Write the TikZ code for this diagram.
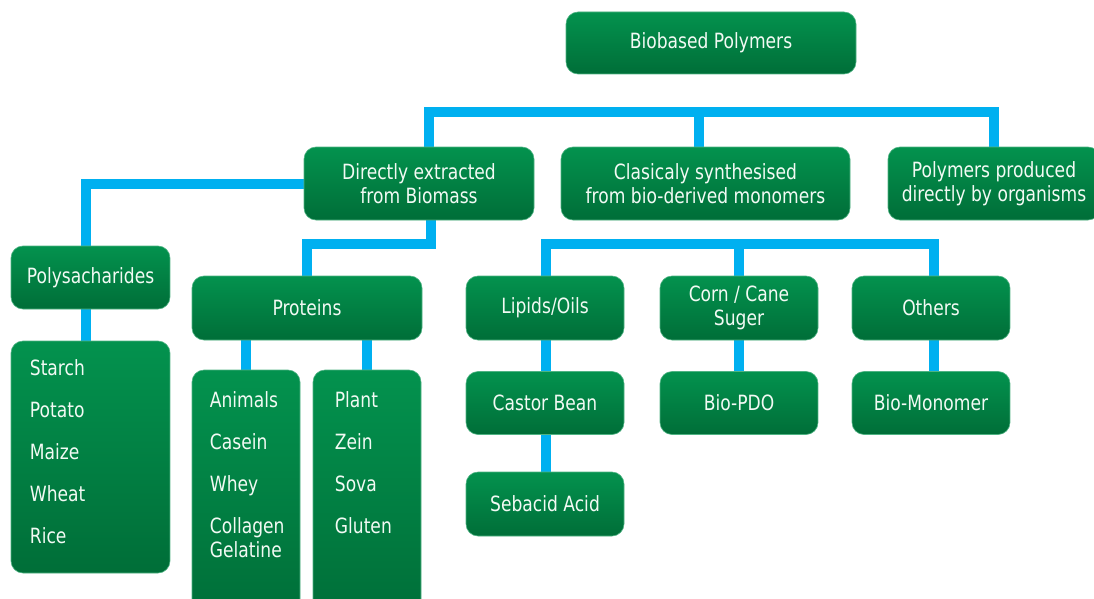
\documentclass[tikz,border=0pt]{standalone}
\usepackage{fontspec}
\setmainfont{DejaVu Sans}[FakeStretch=0.815]
\usetikzlibrary{backgrounds}

\definecolor{boxtop}{RGB}{3,146,78}
\definecolor{boxbottom}{RGB}{0,110,56}
\definecolor{linkblue}{RGB}{0,176,240}
\definecolor{boxtext}{RGB}{242,250,244}

\begin{document}
\begin{tikzpicture}[
        x=1pt, y=-1pt,
        box/.style={rectangle, rounded corners=12pt, inner sep=0pt, align=center,
            top color=boxtop, bottom color=boxbottom, draw=boxtop!70!white, line width=0.6pt,
            text=boxtext, font=\fontsize{21}{24}\selectfont},
        listtext/.style={anchor=north west, inner sep=0pt, align=left, text=boxtext,
            font=\fontsize{21}{24}\selectfont},
        link/.style={draw=linkblue, line width=10pt, line join=miter}
    ]
        \useasboundingbox (0,0) rectangle (1094,599);

        \node[box, minimum width=290, minimum height=62] (bio) at (711,43) {Biobased Polymers};

        \node[box, minimum width=230, minimum height=73] (direct) at (419,183.5) {Directly extracted\\from Biomass};
        \node[box, minimum width=289, minimum height=73] (classic) at (705.5,183.5) {Clasicaly synthesised\\from bio-derived monomers};
        \node[box, minimum width=212, minimum height=73] (organisms) at (994,183.5) {Polymers produced\\directly by organisms};

        \node[box, minimum width=159, minimum height=63] (poly) at (90.5,277.5) {Polysacharides};
        \node[box, minimum width=159, minimum height=232] (starch) at (90.5,457) {};
        \node[listtext] (starchlist) at ([shift={(19,19)}]starch.north west) {Starch\\[18pt]Potato\\[18pt]Maize\\[18pt]Wheat\\[18pt]Rice};

        \node[box, minimum width=230, minimum height=64] (proteins) at (307,308) {Proteins};
        \node[box, minimum width=108, minimum height=250] (animals) at (246,495) {};
        \node[box, minimum width=108, minimum height=250] (plant) at (367,495) {};
        \node[listtext] (animallist) at ([shift={(18,22)}]animals.north west) {Animals\\[18pt]Casein\\[18pt]Whey\\[18pt]Collagen\\Gelatine};
        \node[listtext] (plantlist) at ([shift={(22,22)}]plant.north west) {Plant\\[18pt]Zein\\[18pt]Sova\\[18pt]Gluten};

        \node[box, minimum width=158, minimum height=64] (lipids) at (545,308) {Lipids/Oils};
        \node[box, minimum width=158, minimum height=64] (corn) at (739,308) {Corn / Cane\\Suger};
        \node[box, minimum width=158, minimum height=64] (others) at (931,308) {Others};
        \node[box, minimum width=158, minimum height=63] (castor) at (545,403) {Castor Bean};
        \node[box, minimum width=158, minimum height=63] (pdo) at (739,403) {Bio-PDO};
        \node[box, minimum width=158, minimum height=63] (monomer) at (931,403) {Bio-Monomer};
        \node[box, minimum width=158, minimum height=64] (sebacid) at (545,504) {Sebacid Acid};

        \coordinate (busA) at (0,112);
        \coordinate (busB) at (0,244);

        \begin{scope}[on background layer]
            \draw[link] ([xshift=10pt]direct.north) |- (busA -| organisms.north) -- (organisms.north);
            \draw[link] ([xshift=-6.5pt]classic.north |- busA) -- ([xshift=-6.5pt]classic.north);
            \draw[link] (direct.west) -| ([xshift=-4.5pt]poly.north);
            \draw[link] ([xshift=-4.5pt]poly.south) -- ([xshift=-4.5pt]starch.north);
            \draw[link] ([xshift=12pt]direct.south) |- (busB -| proteins.north) -- (proteins.north);
            \draw[link] (proteins.south -| animals.north) -- (animals.north);
            \draw[link] (proteins.south -| plant.north) -- (plant.north);
            \draw[link] ([xshift=1pt]lipids.north) |- ([xshift=3pt]busB -| others.north) -- ([xshift=3pt]others.north);
            \draw[link] (busB -| corn.north) -- (corn.north);
            \draw[link] ([xshift=1pt]lipids.south) -- ([xshift=1pt]castor.north);
            \draw[link] ([xshift=1pt]castor.south) -- ([xshift=1pt]sebacid.north);
            \draw[link] (corn.south) -- (pdo.north);
            \draw[link] ([xshift=3pt]others.south) -- ([xshift=3pt]monomer.north);
        \end{scope}
    \end{tikzpicture}
\end{document}
